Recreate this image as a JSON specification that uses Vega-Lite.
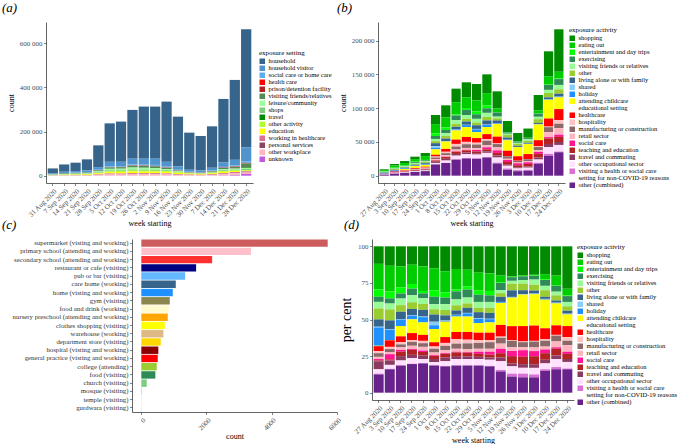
{
  "$schema": "https://vega.github.io/schema/vega-lite/v6.json",
  "background": "white",
  "padding": {"left": 2, "top": 2, "right": 0, "bottom": 0},
  "config": {
    "font": "Liberation Serif",
    "view": {"stroke": null},
    "axis": {"grid": false, "labelFont": "Liberation Serif", "titleFont": "Liberation Serif", "titleFontWeight": "normal", "labelFontSize": 7, "titleFontSize": 8, "labelColor": "#4d4d4d", "titleColor": "#000000", "domainColor": "#222222", "tickColor": "#333333", "tickSize": 2.5, "domainWidth": 0.7, "tickWidth": 0.6, "labelPadding": 1.5, "titlePadding": 3},
    "legend": {"titleFont": "Liberation Serif", "labelFont": "Liberation Serif", "titleFontWeight": "normal", "titleFontSize": 7, "labelFontSize": 6.5, "symbolType": "square", "symbolSize": 30, "symbolStrokeWidth": 0, "rowPadding": 0, "labelOffset": 3, "titlePadding": 2, "labelLimit": 300, "labelColor": "#000000", "titleColor": "#000000", "padding": 0, "labelBaseline": "middle"},
    "title": {"font": "Liberation Serif", "fontStyle": "italic", "fontWeight": "normal", "fontSize": 13, "anchor": "start", "frame": "group", "offset": 7, "color": "#000000"}
  },
  "datasets": {
    "aset": [
      {"cat": "household", "k": 1}, {"cat": "household visitor", "k": 2}, {"cat": "social care or home care", "k": 3}, {"cat": "health care", "k": 4}, {"cat": "prison/detention facility", "k": 5}, {"cat": "visiting friends/relatives", "k": 6}, {"cat": "leisure/community", "k": 7}, {"cat": "shops", "k": 8}, {"cat": "travel", "k": 9}, {"cat": "other activity", "k": 10}, {"cat": "education", "k": 11}, {"cat": "working in healthcare", "k": 12}, {"cat": "personal services", "k": 13}, {"cat": "other workplace", "k": 14}, {"cat": "unknown", "k": 15}
    ],
    "bset": [
      {"cat": "shopping", "k": 1}, {"cat": "eating out", "k": 2}, {"cat": "entertainment and day trips", "k": 3}, {"cat": "exercising", "k": 4}, {"cat": "visiting friends or relatives", "k": 5}, {"cat": "other", "k": 6}, {"cat": "living alone or with family", "k": 7}, {"cat": "shared", "k": 8}, {"cat": "holiday", "k": 9}, {"cat": "attending childcare or educational setting", "k": 10}, {"cat": "healthcare", "k": 11}, {"cat": "hospitality", "k": 12}, {"cat": "manufacturing or construction", "k": 13}, {"cat": "retail sector", "k": 14}, {"cat": "social care", "k": 15}, {"cat": "teaching and education", "k": 16}, {"cat": "travel and commuting", "k": 17}, {"cat": "other occupational sector", "k": 18}, {"cat": "visiting a health or social care setting for non-COVID-19 reasons", "k": 19}, {"cat": "other (combined)", "k": 20}
    ],
    "a": [
      {"week":"31 Aug 2020","cat":"household","n":22500},{"week":"31 Aug 2020","cat":"household visitor","n":3000},{"week":"31 Aug 2020","cat":"social care or home care","n":800},{"week":"31 Aug 2020","cat":"health care","n":200},{"week":"31 Aug 2020","cat":"prison/detention facility","n":100},{"week":"31 Aug 2020","cat":"visiting friends/relatives","n":1500},{"week":"31 Aug 2020","cat":"leisure/community","n":1200},{"week":"31 Aug 2020","cat":"shops","n":500},{"week":"31 Aug 2020","cat":"travel","n":200},{"week":"31 Aug 2020","cat":"other activity","n":600},{"week":"31 Aug 2020","cat":"education","n":300},{"week":"31 Aug 2020","cat":"working in healthcare","n":600},{"week":"31 Aug 2020","cat":"personal services","n":200},{"week":"31 Aug 2020","cat":"other workplace","n":1200},{"week":"31 Aug 2020","cat":"unknown","n":100},
      {"week":"7 Sep 2020","cat":"household","n":33000},{"week":"7 Sep 2020","cat":"household visitor","n":6000},{"week":"7 Sep 2020","cat":"social care or home care","n":1200},{"week":"7 Sep 2020","cat":"health care","n":300},{"week":"7 Sep 2020","cat":"prison/detention facility","n":100},{"week":"7 Sep 2020","cat":"visiting friends/relatives","n":2500},{"week":"7 Sep 2020","cat":"leisure/community","n":2000},{"week":"7 Sep 2020","cat":"shops","n":800},{"week":"7 Sep 2020","cat":"travel","n":300},{"week":"7 Sep 2020","cat":"other activity","n":1000},{"week":"7 Sep 2020","cat":"education","n":1200},{"week":"7 Sep 2020","cat":"working in healthcare","n":1000},{"week":"7 Sep 2020","cat":"personal services","n":300},{"week":"7 Sep 2020","cat":"other workplace","n":1200},{"week":"7 Sep 2020","cat":"unknown","n":100},
      {"week":"14 Sep 2020","cat":"household","n":38000},{"week":"14 Sep 2020","cat":"household visitor","n":7000},{"week":"14 Sep 2020","cat":"social care or home care","n":1300},{"week":"14 Sep 2020","cat":"health care","n":300},{"week":"14 Sep 2020","cat":"prison/detention facility","n":100},{"week":"14 Sep 2020","cat":"visiting friends/relatives","n":2800},{"week":"14 Sep 2020","cat":"leisure/community","n":2300},{"week":"14 Sep 2020","cat":"shops","n":1000},{"week":"14 Sep 2020","cat":"travel","n":300},{"week":"14 Sep 2020","cat":"other activity","n":1200},{"week":"14 Sep 2020","cat":"education","n":1800},{"week":"14 Sep 2020","cat":"working in healthcare","n":1200},{"week":"14 Sep 2020","cat":"personal services","n":300},{"week":"14 Sep 2020","cat":"other workplace","n":1300},{"week":"14 Sep 2020","cat":"unknown","n":100},
      {"week":"21 Sep 2020","cat":"household","n":50000},{"week":"21 Sep 2020","cat":"household visitor","n":8000},{"week":"21 Sep 2020","cat":"social care or home care","n":1500},{"week":"21 Sep 2020","cat":"health care","n":400},{"week":"21 Sep 2020","cat":"prison/detention facility","n":100},{"week":"21 Sep 2020","cat":"visiting friends/relatives","n":3000},{"week":"21 Sep 2020","cat":"leisure/community","n":2500},{"week":"21 Sep 2020","cat":"shops","n":1100},{"week":"21 Sep 2020","cat":"travel","n":400},{"week":"21 Sep 2020","cat":"other activity","n":1300},{"week":"21 Sep 2020","cat":"education","n":2500},{"week":"21 Sep 2020","cat":"working in healthcare","n":1300},{"week":"21 Sep 2020","cat":"personal services","n":400},{"week":"21 Sep 2020","cat":"other workplace","n":1400},{"week":"21 Sep 2020","cat":"unknown","n":100},
      {"week":"28 Sep 2020","cat":"household","n":98500},{"week":"28 Sep 2020","cat":"household visitor","n":12000},{"week":"28 Sep 2020","cat":"social care or home care","n":2000},{"week":"28 Sep 2020","cat":"health care","n":600},{"week":"28 Sep 2020","cat":"prison/detention facility","n":200},{"week":"28 Sep 2020","cat":"visiting friends/relatives","n":4500},{"week":"28 Sep 2020","cat":"leisure/community","n":4500},{"week":"28 Sep 2020","cat":"shops","n":1800},{"week":"28 Sep 2020","cat":"travel","n":600},{"week":"28 Sep 2020","cat":"other activity","n":2500},{"week":"28 Sep 2020","cat":"education","n":4000},{"week":"28 Sep 2020","cat":"working in healthcare","n":2000},{"week":"28 Sep 2020","cat":"personal services","n":600},{"week":"28 Sep 2020","cat":"other workplace","n":3500},{"week":"28 Sep 2020","cat":"unknown","n":200},
      {"week":"5 Oct 2020","cat":"household","n":174000},{"week":"5 Oct 2020","cat":"household visitor","n":21000},{"week":"5 Oct 2020","cat":"social care or home care","n":3000},{"week":"5 Oct 2020","cat":"health care","n":1000},{"week":"5 Oct 2020","cat":"prison/detention facility","n":300},{"week":"5 Oct 2020","cat":"visiting friends/relatives","n":6500},{"week":"5 Oct 2020","cat":"leisure/community","n":7000},{"week":"5 Oct 2020","cat":"shops","n":3000},{"week":"5 Oct 2020","cat":"travel","n":1000},{"week":"5 Oct 2020","cat":"other activity","n":4000},{"week":"5 Oct 2020","cat":"education","n":6000},{"week":"5 Oct 2020","cat":"working in healthcare","n":3500},{"week":"5 Oct 2020","cat":"personal services","n":1000},{"week":"5 Oct 2020","cat":"other workplace","n":5500},{"week":"5 Oct 2020","cat":"unknown","n":200},
      {"week":"12 Oct 2020","cat":"household","n":182000},{"week":"12 Oct 2020","cat":"household visitor","n":20000},{"week":"12 Oct 2020","cat":"social care or home care","n":3000},{"week":"12 Oct 2020","cat":"health care","n":1000},{"week":"12 Oct 2020","cat":"prison/detention facility","n":300},{"week":"12 Oct 2020","cat":"visiting friends/relatives","n":7000},{"week":"12 Oct 2020","cat":"leisure/community","n":7000},{"week":"12 Oct 2020","cat":"shops","n":3000},{"week":"12 Oct 2020","cat":"travel","n":1000},{"week":"12 Oct 2020","cat":"other activity","n":4000},{"week":"12 Oct 2020","cat":"education","n":6500},{"week":"12 Oct 2020","cat":"working in healthcare","n":3500},{"week":"12 Oct 2020","cat":"personal services","n":1000},{"week":"12 Oct 2020","cat":"other workplace","n":5500},{"week":"12 Oct 2020","cat":"unknown","n":200},
      {"week":"19 Oct 2020","cat":"household","n":221000},{"week":"19 Oct 2020","cat":"household visitor","n":26000},{"week":"19 Oct 2020","cat":"social care or home care","n":4000},{"week":"19 Oct 2020","cat":"health care","n":1200},{"week":"19 Oct 2020","cat":"prison/detention facility","n":400},{"week":"19 Oct 2020","cat":"visiting friends/relatives","n":8500},{"week":"19 Oct 2020","cat":"leisure/community","n":8500},{"week":"19 Oct 2020","cat":"shops","n":3500},{"week":"19 Oct 2020","cat":"travel","n":1200},{"week":"19 Oct 2020","cat":"other activity","n":5000},{"week":"19 Oct 2020","cat":"education","n":7000},{"week":"19 Oct 2020","cat":"working in healthcare","n":4500},{"week":"19 Oct 2020","cat":"personal services","n":1200},{"week":"19 Oct 2020","cat":"other workplace","n":5800},{"week":"19 Oct 2020","cat":"unknown","n":200},
      {"week":"26 Oct 2020","cat":"household","n":236000},{"week":"26 Oct 2020","cat":"household visitor","n":27000},{"week":"26 Oct 2020","cat":"social care or home care","n":4000},{"week":"26 Oct 2020","cat":"health care","n":1200},{"week":"26 Oct 2020","cat":"prison/detention facility","n":400},{"week":"26 Oct 2020","cat":"visiting friends/relatives","n":8500},{"week":"26 Oct 2020","cat":"leisure/community","n":8000},{"week":"26 Oct 2020","cat":"shops","n":3500},{"week":"26 Oct 2020","cat":"travel","n":1200},{"week":"26 Oct 2020","cat":"other activity","n":5000},{"week":"26 Oct 2020","cat":"education","n":6500},{"week":"26 Oct 2020","cat":"working in healthcare","n":4500},{"week":"26 Oct 2020","cat":"personal services","n":1200},{"week":"26 Oct 2020","cat":"other workplace","n":5800},{"week":"26 Oct 2020","cat":"unknown","n":200},
      {"week":"2 Nov 2020","cat":"household","n":236000},{"week":"2 Nov 2020","cat":"household visitor","n":28000},{"week":"2 Nov 2020","cat":"social care or home care","n":4500},{"week":"2 Nov 2020","cat":"health care","n":1300},{"week":"2 Nov 2020","cat":"prison/detention facility","n":400},{"week":"2 Nov 2020","cat":"visiting friends/relatives","n":8000},{"week":"2 Nov 2020","cat":"leisure/community","n":7500},{"week":"2 Nov 2020","cat":"shops","n":3500},{"week":"2 Nov 2020","cat":"travel","n":1200},{"week":"2 Nov 2020","cat":"other activity","n":4500},{"week":"2 Nov 2020","cat":"education","n":6500},{"week":"2 Nov 2020","cat":"working in healthcare","n":4500},{"week":"2 Nov 2020","cat":"personal services","n":1200},{"week":"2 Nov 2020","cat":"other workplace","n":5700},{"week":"2 Nov 2020","cat":"unknown","n":200},
      {"week":"9 Nov 2020","cat":"household","n":272500},{"week":"9 Nov 2020","cat":"household visitor","n":22000},{"week":"9 Nov 2020","cat":"social care or home care","n":4000},{"week":"9 Nov 2020","cat":"health care","n":1200},{"week":"9 Nov 2020","cat":"prison/detention facility","n":400},{"week":"9 Nov 2020","cat":"visiting friends/relatives","n":5500},{"week":"9 Nov 2020","cat":"leisure/community","n":5500},{"week":"9 Nov 2020","cat":"shops","n":2500},{"week":"9 Nov 2020","cat":"travel","n":1000},{"week":"9 Nov 2020","cat":"other activity","n":3500},{"week":"9 Nov 2020","cat":"education","n":7000},{"week":"9 Nov 2020","cat":"working in healthcare","n":4000},{"week":"9 Nov 2020","cat":"personal services","n":1000},{"week":"9 Nov 2020","cat":"other workplace","n":5200},{"week":"9 Nov 2020","cat":"unknown","n":200},
      {"week":"16 Nov 2020","cat":"household","n":225500},{"week":"16 Nov 2020","cat":"household visitor","n":15000},{"week":"16 Nov 2020","cat":"social care or home care","n":3000},{"week":"16 Nov 2020","cat":"health care","n":900},{"week":"16 Nov 2020","cat":"prison/detention facility","n":300},{"week":"16 Nov 2020","cat":"visiting friends/relatives","n":3000},{"week":"16 Nov 2020","cat":"leisure/community","n":3000},{"week":"16 Nov 2020","cat":"shops","n":1500},{"week":"16 Nov 2020","cat":"travel","n":600},{"week":"16 Nov 2020","cat":"other activity","n":2000},{"week":"16 Nov 2020","cat":"education","n":5500},{"week":"16 Nov 2020","cat":"working in healthcare","n":3000},{"week":"16 Nov 2020","cat":"personal services","n":600},{"week":"16 Nov 2020","cat":"other workplace","n":3400},{"week":"16 Nov 2020","cat":"unknown","n":200},
      {"week":"23 Nov 2020","cat":"household","n":168000},{"week":"23 Nov 2020","cat":"household visitor","n":9000},{"week":"23 Nov 2020","cat":"social care or home care","n":2500},{"week":"23 Nov 2020","cat":"health care","n":700},{"week":"23 Nov 2020","cat":"prison/detention facility","n":200},{"week":"23 Nov 2020","cat":"visiting friends/relatives","n":1500},{"week":"23 Nov 2020","cat":"leisure/community","n":1500},{"week":"23 Nov 2020","cat":"shops","n":800},{"week":"23 Nov 2020","cat":"travel","n":400},{"week":"23 Nov 2020","cat":"other activity","n":1200},{"week":"23 Nov 2020","cat":"education","n":4000},{"week":"23 Nov 2020","cat":"working in healthcare","n":2000},{"week":"23 Nov 2020","cat":"personal services","n":400},{"week":"23 Nov 2020","cat":"other workplace","n":2600},{"week":"23 Nov 2020","cat":"unknown","n":200},
      {"week":"30 Nov 2020","cat":"household","n":156000},{"week":"30 Nov 2020","cat":"household visitor","n":8000},{"week":"30 Nov 2020","cat":"social care or home care","n":2200},{"week":"30 Nov 2020","cat":"health care","n":600},{"week":"30 Nov 2020","cat":"prison/detention facility","n":200},{"week":"30 Nov 2020","cat":"visiting friends/relatives","n":1300},{"week":"30 Nov 2020","cat":"leisure/community","n":1300},{"week":"30 Nov 2020","cat":"shops","n":800},{"week":"30 Nov 2020","cat":"travel","n":300},{"week":"30 Nov 2020","cat":"other activity","n":1000},{"week":"30 Nov 2020","cat":"education","n":3800},{"week":"30 Nov 2020","cat":"working in healthcare","n":1800},{"week":"30 Nov 2020","cat":"personal services","n":400},{"week":"30 Nov 2020","cat":"other workplace","n":2100},{"week":"30 Nov 2020","cat":"unknown","n":200},
      {"week":"7 Dec 2020","cat":"household","n":187700},{"week":"7 Dec 2020","cat":"household visitor","n":12000},{"week":"7 Dec 2020","cat":"social care or home care","n":2500},{"week":"7 Dec 2020","cat":"health care","n":800},{"week":"7 Dec 2020","cat":"prison/detention facility","n":300},{"week":"7 Dec 2020","cat":"visiting friends/relatives","n":3000},{"week":"7 Dec 2020","cat":"leisure/community","n":2500},{"week":"7 Dec 2020","cat":"shops","n":1500},{"week":"7 Dec 2020","cat":"travel","n":500},{"week":"7 Dec 2020","cat":"other activity","n":2000},{"week":"7 Dec 2020","cat":"education","n":4500},{"week":"7 Dec 2020","cat":"working in healthcare","n":2500},{"week":"7 Dec 2020","cat":"personal services","n":600},{"week":"7 Dec 2020","cat":"other workplace","n":3000},{"week":"7 Dec 2020","cat":"unknown","n":300},
      {"week":"14 Dec 2020","cat":"household","n":287600},{"week":"14 Dec 2020","cat":"household visitor","n":20000},{"week":"14 Dec 2020","cat":"social care or home care","n":3500},{"week":"14 Dec 2020","cat":"health care","n":1200},{"week":"14 Dec 2020","cat":"prison/detention facility","n":400},{"week":"14 Dec 2020","cat":"visiting friends/relatives","n":6000},{"week":"14 Dec 2020","cat":"leisure/community","n":4500},{"week":"14 Dec 2020","cat":"shops","n":2500},{"week":"14 Dec 2020","cat":"travel","n":800},{"week":"14 Dec 2020","cat":"other activity","n":3500},{"week":"14 Dec 2020","cat":"education","n":6000},{"week":"14 Dec 2020","cat":"working in healthcare","n":4000},{"week":"14 Dec 2020","cat":"personal services","n":1000},{"week":"14 Dec 2020","cat":"other workplace","n":5600},{"week":"14 Dec 2020","cat":"unknown","n":1000},
      {"week":"21 Dec 2020","cat":"household","n":361700},{"week":"21 Dec 2020","cat":"household visitor","n":26000},{"week":"21 Dec 2020","cat":"social care or home care","n":4000},{"week":"21 Dec 2020","cat":"health care","n":1500},{"week":"21 Dec 2020","cat":"prison/detention facility","n":500},{"week":"21 Dec 2020","cat":"visiting friends/relatives","n":8000},{"week":"21 Dec 2020","cat":"leisure/community","n":4500},{"week":"21 Dec 2020","cat":"shops","n":2500},{"week":"21 Dec 2020","cat":"travel","n":800},{"week":"21 Dec 2020","cat":"other activity","n":3500},{"week":"21 Dec 2020","cat":"education","n":4000},{"week":"21 Dec 2020","cat":"working in healthcare","n":5000},{"week":"21 Dec 2020","cat":"personal services","n":1000},{"week":"21 Dec 2020","cat":"other workplace","n":8200},{"week":"21 Dec 2020","cat":"unknown","n":2500},
      {"week":"28 Dec 2020","cat":"household","n":535500},{"week":"28 Dec 2020","cat":"household visitor","n":64000},{"week":"28 Dec 2020","cat":"social care or home care","n":6000},{"week":"28 Dec 2020","cat":"health care","n":2000},{"week":"28 Dec 2020","cat":"prison/detention facility","n":800},{"week":"28 Dec 2020","cat":"visiting friends/relatives","n":20000},{"week":"28 Dec 2020","cat":"leisure/community","n":5000},{"week":"28 Dec 2020","cat":"shops","n":3000},{"week":"28 Dec 2020","cat":"travel","n":1000},{"week":"28 Dec 2020","cat":"other activity","n":4000},{"week":"28 Dec 2020","cat":"education","n":2000},{"week":"28 Dec 2020","cat":"working in healthcare","n":5000},{"week":"28 Dec 2020","cat":"personal services","n":1200},{"week":"28 Dec 2020","cat":"other workplace","n":6000},{"week":"28 Dec 2020","cat":"unknown","n":8000}
    ],
    "b": [
      {"week":"27 Aug 2020","cat":"shopping","n":1128},{"week":"27 Aug 2020","cat":"eating out","n":1645},{"week":"27 Aug 2020","cat":"entertainment and day trips","n":470},{"week":"27 Aug 2020","cat":"exercising","n":329},{"week":"27 Aug 2020","cat":"visiting friends or relatives","n":423},{"week":"27 Aug 2020","cat":"other","n":705},{"week":"27 Aug 2020","cat":"living alone or with family","n":470},{"week":"27 Aug 2020","cat":"shared","n":47},{"week":"27 Aug 2020","cat":"holiday","n":1175},{"week":"27 Aug 2020","cat":"attending childcare or educational setting","n":28},{"week":"27 Aug 2020","cat":"healthcare","n":310},{"week":"27 Aug 2020","cat":"hospitality","n":141},{"week":"27 Aug 2020","cat":"manufacturing or construction","n":235},{"week":"27 Aug 2020","cat":"retail sector","n":141},{"week":"27 Aug 2020","cat":"social care","n":94},{"week":"27 Aug 2020","cat":"teaching and education","n":47},{"week":"27 Aug 2020","cat":"travel and commuting","n":517},{"week":"27 Aug 2020","cat":"other occupational sector","n":282},{"week":"27 Aug 2020","cat":"visiting a health or social care setting for non-COVID-19 reasons","n":47},{"week":"27 Aug 2020","cat":"other (combined)","n":1175},
      {"week":"3 Sep 2020","cat":"shopping","n":2301},{"week":"3 Sep 2020","cat":"eating out","n":3028},{"week":"3 Sep 2020","cat":"entertainment and day trips","n":830},{"week":"3 Sep 2020","cat":"exercising","n":606},{"week":"3 Sep 2020","cat":"visiting friends or relatives","n":692},{"week":"3 Sep 2020","cat":"other","n":1298},{"week":"3 Sep 2020","cat":"living alone or with family","n":1038},{"week":"3 Sep 2020","cat":"shared","n":69},{"week":"3 Sep 2020","cat":"holiday","n":1211},{"week":"3 Sep 2020","cat":"attending childcare or educational setting","n":35},{"week":"3 Sep 2020","cat":"healthcare","n":779},{"week":"3 Sep 2020","cat":"hospitality","n":260},{"week":"3 Sep 2020","cat":"manufacturing or construction","n":346},{"week":"3 Sep 2020","cat":"retail sector","n":260},{"week":"3 Sep 2020","cat":"social care","n":606},{"week":"3 Sep 2020","cat":"teaching and education","n":138},{"week":"3 Sep 2020","cat":"travel and commuting","n":519},{"week":"3 Sep 2020","cat":"other occupational sector","n":467},{"week":"3 Sep 2020","cat":"visiting a health or social care setting for non-COVID-19 reasons","n":52},{"week":"3 Sep 2020","cat":"other (combined)","n":2768},
      {"week":"10 Sep 2020","cat":"shopping","n":2973},{"week":"10 Sep 2020","cat":"eating out","n":3147},{"week":"10 Sep 2020","cat":"entertainment and day trips","n":868},{"week":"10 Sep 2020","cat":"exercising","n":760},{"week":"10 Sep 2020","cat":"visiting friends or relatives","n":977},{"week":"10 Sep 2020","cat":"other","n":977},{"week":"10 Sep 2020","cat":"living alone or with family","n":1085},{"week":"10 Sep 2020","cat":"shared","n":65},{"week":"10 Sep 2020","cat":"holiday","n":977},{"week":"10 Sep 2020","cat":"attending childcare or educational setting","n":1519},{"week":"10 Sep 2020","cat":"healthcare","n":868},{"week":"10 Sep 2020","cat":"hospitality","n":326},{"week":"10 Sep 2020","cat":"manufacturing or construction","n":434},{"week":"10 Sep 2020","cat":"retail sector","n":391},{"week":"10 Sep 2020","cat":"social care","n":260},{"week":"10 Sep 2020","cat":"teaching and education","n":651},{"week":"10 Sep 2020","cat":"travel and commuting","n":651},{"week":"10 Sep 2020","cat":"other occupational sector","n":694},{"week":"10 Sep 2020","cat":"visiting a health or social care setting for non-COVID-19 reasons","n":65},{"week":"10 Sep 2020","cat":"other (combined)","n":4015},
      {"week":"17 Sep 2020","cat":"shopping","n":3541},{"week":"17 Sep 2020","cat":"eating out","n":3709},{"week":"17 Sep 2020","cat":"entertainment and day trips","n":899},{"week":"17 Sep 2020","cat":"exercising","n":1265},{"week":"17 Sep 2020","cat":"visiting friends or relatives","n":1349},{"week":"17 Sep 2020","cat":"other","n":1293},{"week":"17 Sep 2020","cat":"living alone or with family","n":1208},{"week":"17 Sep 2020","cat":"shared","n":84},{"week":"17 Sep 2020","cat":"holiday","n":703},{"week":"17 Sep 2020","cat":"attending childcare or educational setting","n":2641},{"week":"17 Sep 2020","cat":"healthcare","n":1349},{"week":"17 Sep 2020","cat":"hospitality","n":337},{"week":"17 Sep 2020","cat":"manufacturing or construction","n":759},{"week":"17 Sep 2020","cat":"retail sector","n":618},{"week":"17 Sep 2020","cat":"social care","n":169},{"week":"17 Sep 2020","cat":"teaching and education","n":955},{"week":"17 Sep 2020","cat":"travel and commuting","n":646},{"week":"17 Sep 2020","cat":"other occupational sector","n":1068},{"week":"17 Sep 2020","cat":"visiting a health or social care setting for non-COVID-19 reasons","n":56},{"week":"17 Sep 2020","cat":"other (combined)","n":5508},
      {"week":"24 Sep 2020","cat":"shopping","n":4603},{"week":"24 Sep 2020","cat":"eating out","n":5645},{"week":"24 Sep 2020","cat":"entertainment and day trips","n":538},{"week":"24 Sep 2020","cat":"exercising","n":1142},{"week":"24 Sep 2020","cat":"visiting friends or relatives","n":1310},{"week":"24 Sep 2020","cat":"other","n":1344},{"week":"24 Sep 2020","cat":"living alone or with family","n":1546},{"week":"24 Sep 2020","cat":"shared","n":134},{"week":"24 Sep 2020","cat":"holiday","n":1210},{"week":"24 Sep 2020","cat":"attending childcare or educational setting","n":2856},{"week":"24 Sep 2020","cat":"healthcare","n":1378},{"week":"24 Sep 2020","cat":"hospitality","n":538},{"week":"24 Sep 2020","cat":"manufacturing or construction","n":840},{"week":"24 Sep 2020","cat":"retail sector","n":840},{"week":"24 Sep 2020","cat":"social care","n":336},{"week":"24 Sep 2020","cat":"teaching and education","n":840},{"week":"24 Sep 2020","cat":"travel and commuting","n":773},{"week":"24 Sep 2020","cat":"other occupational sector","n":941},{"week":"24 Sep 2020","cat":"visiting a health or social care setting for non-COVID-19 reasons","n":67},{"week":"24 Sep 2020","cat":"other (combined)","n":6720},
      {"week":"1 Oct 2020","cat":"shopping","n":13485},{"week":"1 Oct 2020","cat":"eating out","n":13485},{"week":"1 Oct 2020","cat":"entertainment and day trips","n":4046},{"week":"1 Oct 2020","cat":"exercising","n":4495},{"week":"1 Oct 2020","cat":"visiting friends or relatives","n":3147},{"week":"1 Oct 2020","cat":"other","n":3147},{"week":"1 Oct 2020","cat":"living alone or with family","n":4495},{"week":"1 Oct 2020","cat":"shared","n":2248},{"week":"1 Oct 2020","cat":"holiday","n":2248},{"week":"1 Oct 2020","cat":"attending childcare or educational setting","n":8091},{"week":"1 Oct 2020","cat":"healthcare","n":2697},{"week":"1 Oct 2020","cat":"hospitality","n":1349},{"week":"1 Oct 2020","cat":"manufacturing or construction","n":2248},{"week":"1 Oct 2020","cat":"retail sector","n":1798},{"week":"1 Oct 2020","cat":"social care","n":450},{"week":"1 Oct 2020","cat":"teaching and education","n":1798},{"week":"1 Oct 2020","cat":"travel and commuting","n":1798},{"week":"1 Oct 2020","cat":"other occupational sector","n":1978},{"week":"1 Oct 2020","cat":"visiting a health or social care setting for non-COVID-19 reasons","n":270},{"week":"1 Oct 2020","cat":"other (combined)","n":16632},
      {"week":"8 Oct 2020","cat":"shopping","n":17714},{"week":"8 Oct 2020","cat":"eating out","n":15109},{"week":"8 Oct 2020","cat":"entertainment and day trips","n":3647},{"week":"8 Oct 2020","cat":"exercising","n":4689},{"week":"8 Oct 2020","cat":"visiting friends or relatives","n":4168},{"week":"8 Oct 2020","cat":"other","n":3855},{"week":"8 Oct 2020","cat":"living alone or with family","n":3647},{"week":"8 Oct 2020","cat":"shared","n":313},{"week":"8 Oct 2020","cat":"holiday","n":521},{"week":"8 Oct 2020","cat":"attending childcare or educational setting","n":10941},{"week":"8 Oct 2020","cat":"healthcare","n":4168},{"week":"8 Oct 2020","cat":"hospitality","n":2084},{"week":"8 Oct 2020","cat":"manufacturing or construction","n":3126},{"week":"8 Oct 2020","cat":"retail sector","n":2084},{"week":"8 Oct 2020","cat":"social care","n":521},{"week":"8 Oct 2020","cat":"teaching and education","n":2605},{"week":"8 Oct 2020","cat":"travel and commuting","n":2605},{"week":"8 Oct 2020","cat":"other occupational sector","n":3439},{"week":"8 Oct 2020","cat":"visiting a health or social care setting for non-COVID-19 reasons","n":208},{"week":"8 Oct 2020","cat":"other (combined)","n":18756},
      {"week":"15 Oct 2020","cat":"shopping","n":19980},{"week":"15 Oct 2020","cat":"eating out","n":18046},{"week":"15 Oct 2020","cat":"entertainment and day trips","n":1676},{"week":"15 Oct 2020","cat":"exercising","n":7090},{"week":"15 Oct 2020","cat":"visiting friends or relatives","n":5156},{"week":"15 Oct 2020","cat":"other","n":4512},{"week":"15 Oct 2020","cat":"living alone or with family","n":3867},{"week":"15 Oct 2020","cat":"shared","n":258},{"week":"15 Oct 2020","cat":"holiday","n":1289},{"week":"15 Oct 2020","cat":"attending childcare or educational setting","n":13535},{"week":"15 Oct 2020","cat":"healthcare","n":6445},{"week":"15 Oct 2020","cat":"hospitality","n":3867},{"week":"15 Oct 2020","cat":"manufacturing or construction","n":4512},{"week":"15 Oct 2020","cat":"retail sector","n":2578},{"week":"15 Oct 2020","cat":"social care","n":645},{"week":"15 Oct 2020","cat":"teaching and education","n":3223},{"week":"15 Oct 2020","cat":"travel and commuting","n":2578},{"week":"15 Oct 2020","cat":"other occupational sector","n":5414},{"week":"15 Oct 2020","cat":"visiting a health or social care setting for non-COVID-19 reasons","n":387},{"week":"15 Oct 2020","cat":"other (combined)","n":23847},
      {"week":"22 Oct 2020","cat":"shopping","n":22128},{"week":"22 Oct 2020","cat":"eating out","n":15905},{"week":"22 Oct 2020","cat":"entertainment and day trips","n":2766},{"week":"22 Oct 2020","cat":"exercising","n":7607},{"week":"22 Oct 2020","cat":"visiting friends or relatives","n":5532},{"week":"22 Oct 2020","cat":"other","n":4149},{"week":"22 Oct 2020","cat":"living alone or with family","n":4841},{"week":"22 Oct 2020","cat":"shared","n":415},{"week":"22 Oct 2020","cat":"holiday","n":3043},{"week":"22 Oct 2020","cat":"attending childcare or educational setting","n":14522},{"week":"22 Oct 2020","cat":"healthcare","n":7330},{"week":"22 Oct 2020","cat":"hospitality","n":3458},{"week":"22 Oct 2020","cat":"manufacturing or construction","n":5532},{"week":"22 Oct 2020","cat":"retail sector","n":2766},{"week":"22 Oct 2020","cat":"social care","n":692},{"week":"22 Oct 2020","cat":"teaching and education","n":3319},{"week":"22 Oct 2020","cat":"travel and commuting","n":2489},{"week":"22 Oct 2020","cat":"other occupational sector","n":5809},{"week":"22 Oct 2020","cat":"visiting a health or social care setting for non-COVID-19 reasons","n":415},{"week":"22 Oct 2020","cat":"other (combined)","n":25586},
      {"week":"29 Oct 2020","cat":"shopping","n":24444},{"week":"29 Oct 2020","cat":"eating out","n":16296},{"week":"29 Oct 2020","cat":"entertainment and day trips","n":4074},{"week":"29 Oct 2020","cat":"exercising","n":6790},{"week":"29 Oct 2020","cat":"visiting friends or relatives","n":5432},{"week":"29 Oct 2020","cat":"other","n":4074},{"week":"29 Oct 2020","cat":"living alone or with family","n":5432},{"week":"29 Oct 2020","cat":"shared","n":679},{"week":"29 Oct 2020","cat":"holiday","n":4074},{"week":"29 Oct 2020","cat":"attending childcare or educational setting","n":8827},{"week":"29 Oct 2020","cat":"healthcare","n":6790},{"week":"29 Oct 2020","cat":"hospitality","n":2716},{"week":"29 Oct 2020","cat":"manufacturing or construction","n":5432},{"week":"29 Oct 2020","cat":"retail sector","n":2716},{"week":"29 Oct 2020","cat":"social care","n":2037},{"week":"29 Oct 2020","cat":"teaching and education","n":2716},{"week":"29 Oct 2020","cat":"travel and commuting","n":2037},{"week":"29 Oct 2020","cat":"other occupational sector","n":5704},{"week":"29 Oct 2020","cat":"visiting a health or social care setting for non-COVID-19 reasons","n":407},{"week":"29 Oct 2020","cat":"other (combined)","n":25123},
      {"week":"5 Nov 2020","cat":"shopping","n":27769},{"week":"5 Nov 2020","cat":"eating out","n":18012},{"week":"5 Nov 2020","cat":"entertainment and day trips","n":4503},{"week":"5 Nov 2020","cat":"exercising","n":6755},{"week":"5 Nov 2020","cat":"visiting friends or relatives","n":6004},{"week":"5 Nov 2020","cat":"other","n":5254},{"week":"5 Nov 2020","cat":"living alone or with family","n":6004},{"week":"5 Nov 2020","cat":"shared","n":450},{"week":"5 Nov 2020","cat":"holiday","n":3302},{"week":"5 Nov 2020","cat":"attending childcare or educational setting","n":10507},{"week":"5 Nov 2020","cat":"healthcare","n":7505},{"week":"5 Nov 2020","cat":"hospitality","n":2252},{"week":"5 Nov 2020","cat":"manufacturing or construction","n":6755},{"week":"5 Nov 2020","cat":"retail sector","n":3002},{"week":"5 Nov 2020","cat":"social care","n":3002},{"week":"5 Nov 2020","cat":"teaching and education","n":3002},{"week":"5 Nov 2020","cat":"travel and commuting","n":2252},{"week":"5 Nov 2020","cat":"other occupational sector","n":6304},{"week":"5 Nov 2020","cat":"visiting a health or social care setting for non-COVID-19 reasons","n":450},{"week":"5 Nov 2020","cat":"other (combined)","n":27018},
      {"week":"12 Nov 2020","cat":"shopping","n":24980},{"week":"12 Nov 2020","cat":"eating out","n":5621},{"week":"12 Nov 2020","cat":"entertainment and day trips","n":625},{"week":"12 Nov 2020","cat":"exercising","n":6245},{"week":"12 Nov 2020","cat":"visiting friends or relatives","n":2498},{"week":"12 Nov 2020","cat":"other","n":3123},{"week":"12 Nov 2020","cat":"living alone or with family","n":4372},{"week":"12 Nov 2020","cat":"shared","n":250},{"week":"12 Nov 2020","cat":"holiday","n":625},{"week":"12 Nov 2020","cat":"attending childcare or educational setting","n":18735},{"week":"12 Nov 2020","cat":"healthcare","n":9992},{"week":"12 Nov 2020","cat":"hospitality","n":999},{"week":"12 Nov 2020","cat":"manufacturing or construction","n":4996},{"week":"12 Nov 2020","cat":"retail sector","n":4372},{"week":"12 Nov 2020","cat":"social care","n":3747},{"week":"12 Nov 2020","cat":"teaching and education","n":3747},{"week":"12 Nov 2020","cat":"travel and commuting","n":3123},{"week":"12 Nov 2020","cat":"other occupational sector","n":7494},{"week":"12 Nov 2020","cat":"visiting a health or social care setting for non-COVID-19 reasons","n":1249},{"week":"12 Nov 2020","cat":"other (combined)","n":18111},
      {"week":"19 Nov 2020","cat":"shopping","n":16443},{"week":"19 Nov 2020","cat":"eating out","n":405},{"week":"19 Nov 2020","cat":"entertainment and day trips","n":243},{"week":"19 Nov 2020","cat":"exercising","n":2025},{"week":"19 Nov 2020","cat":"visiting friends or relatives","n":1620},{"week":"19 Nov 2020","cat":"other","n":3645},{"week":"19 Nov 2020","cat":"living alone or with family","n":3645},{"week":"19 Nov 2020","cat":"shared","n":162},{"week":"19 Nov 2020","cat":"holiday","n":243},{"week":"19 Nov 2020","cat":"attending childcare or educational setting","n":15795},{"week":"19 Nov 2020","cat":"healthcare","n":7695},{"week":"19 Nov 2020","cat":"hospitality","n":405},{"week":"19 Nov 2020","cat":"manufacturing or construction","n":3645},{"week":"19 Nov 2020","cat":"retail sector","n":2025},{"week":"19 Nov 2020","cat":"social care","n":2835},{"week":"19 Nov 2020","cat":"teaching and education","n":4050},{"week":"19 Nov 2020","cat":"travel and commuting","n":1620},{"week":"19 Nov 2020","cat":"other occupational sector","n":4050},{"week":"19 Nov 2020","cat":"visiting a health or social care setting for non-COVID-19 reasons","n":1620},{"week":"19 Nov 2020","cat":"other (combined)","n":8910},
      {"week":"26 Nov 2020","cat":"shopping","n":12450},{"week":"26 Nov 2020","cat":"eating out","n":316},{"week":"26 Nov 2020","cat":"entertainment and day trips","n":190},{"week":"26 Nov 2020","cat":"exercising","n":1580},{"week":"26 Nov 2020","cat":"visiting friends or relatives","n":1580},{"week":"26 Nov 2020","cat":"other","n":2844},{"week":"26 Nov 2020","cat":"living alone or with family","n":1643},{"week":"26 Nov 2020","cat":"shared","n":126},{"week":"26 Nov 2020","cat":"holiday","n":126},{"week":"26 Nov 2020","cat":"attending childcare or educational setting","n":13588},{"week":"26 Nov 2020","cat":"healthcare","n":6636},{"week":"26 Nov 2020","cat":"hospitality","n":316},{"week":"26 Nov 2020","cat":"manufacturing or construction","n":2212},{"week":"26 Nov 2020","cat":"retail sector","n":1264},{"week":"26 Nov 2020","cat":"social care","n":2844},{"week":"26 Nov 2020","cat":"teaching and education","n":3160},{"week":"26 Nov 2020","cat":"travel and commuting","n":1580},{"week":"26 Nov 2020","cat":"other occupational sector","n":2528},{"week":"26 Nov 2020","cat":"visiting a health or social care setting for non-COVID-19 reasons","n":1580},{"week":"26 Nov 2020","cat":"other (combined)","n":6636},
      {"week":"3 Dec 2020","cat":"shopping","n":13572},{"week":"3 Dec 2020","cat":"eating out","n":348},{"week":"3 Dec 2020","cat":"entertainment and day trips","n":209},{"week":"3 Dec 2020","cat":"exercising","n":1740},{"week":"3 Dec 2020","cat":"visiting friends or relatives","n":2436},{"week":"3 Dec 2020","cat":"other","n":2784},{"week":"3 Dec 2020","cat":"living alone or with family","n":1392},{"week":"3 Dec 2020","cat":"shared","n":139},{"week":"3 Dec 2020","cat":"holiday","n":209},{"week":"3 Dec 2020","cat":"attending childcare or educational setting","n":14964},{"week":"3 Dec 2020","cat":"healthcare","n":7308},{"week":"3 Dec 2020","cat":"hospitality","n":348},{"week":"3 Dec 2020","cat":"manufacturing or construction","n":2784},{"week":"3 Dec 2020","cat":"retail sector","n":1740},{"week":"3 Dec 2020","cat":"social care","n":2436},{"week":"3 Dec 2020","cat":"teaching and education","n":3828},{"week":"3 Dec 2020","cat":"travel and commuting","n":1740},{"week":"3 Dec 2020","cat":"other occupational sector","n":3132},{"week":"3 Dec 2020","cat":"visiting a health or social care setting for non-COVID-19 reasons","n":1392},{"week":"3 Dec 2020","cat":"other (combined)","n":7308},
      {"week":"10 Dec 2020","cat":"shopping","n":22705},{"week":"10 Dec 2020","cat":"eating out","n":4183},{"week":"10 Dec 2020","cat":"entertainment and day trips","n":598},{"week":"10 Dec 2020","cat":"exercising","n":4780},{"week":"10 Dec 2020","cat":"visiting friends or relatives","n":3585},{"week":"10 Dec 2020","cat":"other","n":5378},{"week":"10 Dec 2020","cat":"living alone or with family","n":1673},{"week":"10 Dec 2020","cat":"shared","n":239},{"week":"10 Dec 2020","cat":"holiday","n":478},{"week":"10 Dec 2020","cat":"attending childcare or educational setting","n":23303},{"week":"10 Dec 2020","cat":"healthcare","n":8963},{"week":"10 Dec 2020","cat":"hospitality","n":1195},{"week":"10 Dec 2020","cat":"manufacturing or construction","n":4780},{"week":"10 Dec 2020","cat":"retail sector","n":2390},{"week":"10 Dec 2020","cat":"social care","n":2988},{"week":"10 Dec 2020","cat":"teaching and education","n":5378},{"week":"10 Dec 2020","cat":"travel and commuting","n":2988},{"week":"10 Dec 2020","cat":"other occupational sector","n":4780},{"week":"10 Dec 2020","cat":"visiting a health or social care setting for non-COVID-19 reasons","n":1195},{"week":"10 Dec 2020","cat":"other (combined)","n":17925},
      {"week":"17 Dec 2020","cat":"shopping","n":36840},{"week":"17 Dec 2020","cat":"eating out","n":11973},{"week":"17 Dec 2020","cat":"entertainment and day trips","n":921},{"week":"17 Dec 2020","cat":"exercising","n":7368},{"week":"17 Dec 2020","cat":"visiting friends or relatives","n":4605},{"week":"17 Dec 2020","cat":"other","n":6447},{"week":"17 Dec 2020","cat":"living alone or with family","n":2763},{"week":"17 Dec 2020","cat":"shared","n":368},{"week":"17 Dec 2020","cat":"holiday","n":553},{"week":"17 Dec 2020","cat":"attending childcare or educational setting","n":27630},{"week":"17 Dec 2020","cat":"healthcare","n":11973},{"week":"17 Dec 2020","cat":"hospitality","n":921},{"week":"17 Dec 2020","cat":"manufacturing or construction","n":7368},{"week":"17 Dec 2020","cat":"retail sector","n":7368},{"week":"17 Dec 2020","cat":"social care","n":1842},{"week":"17 Dec 2020","cat":"teaching and education","n":8289},{"week":"17 Dec 2020","cat":"travel and commuting","n":4605},{"week":"17 Dec 2020","cat":"other occupational sector","n":10131},{"week":"17 Dec 2020","cat":"visiting a health or social care setting for non-COVID-19 reasons","n":2763},{"week":"17 Dec 2020","cat":"other (combined)","n":29472},
      {"week":"24 Dec 2020","cat":"shopping","n":62872},{"week":"24 Dec 2020","cat":"eating out","n":9756},{"week":"24 Dec 2020","cat":"entertainment and day trips","n":1084},{"week":"24 Dec 2020","cat":"exercising","n":8672},{"week":"24 Dec 2020","cat":"visiting friends or relatives","n":6504},{"week":"24 Dec 2020","cat":"other","n":6504},{"week":"24 Dec 2020","cat":"living alone or with family","n":4336},{"week":"24 Dec 2020","cat":"shared","n":434},{"week":"24 Dec 2020","cat":"holiday","n":650},{"week":"24 Dec 2020","cat":"attending childcare or educational setting","n":17344},{"week":"24 Dec 2020","cat":"healthcare","n":16260},{"week":"24 Dec 2020","cat":"hospitality","n":5420},{"week":"24 Dec 2020","cat":"manufacturing or construction","n":6504},{"week":"24 Dec 2020","cat":"retail sector","n":9756},{"week":"24 Dec 2020","cat":"social care","n":3252},{"week":"24 Dec 2020","cat":"teaching and education","n":7588},{"week":"24 Dec 2020","cat":"travel and commuting","n":4336},{"week":"24 Dec 2020","cat":"other occupational sector","n":9756},{"week":"24 Dec 2020","cat":"visiting a health or social care setting for non-COVID-19 reasons","n":1084},{"week":"24 Dec 2020","cat":"other (combined)","n":34688}
    ],
    "c": [
      {"place":"supermarket (visting and working)","n":5723},
      {"place":"primary school (attending and working)","n":3366},
      {"place":"secondary school (attending and working)","n":2175},
      {"place":"restaurant or cafe (visiting)","n":1683},
      {"place":"pub or bar (visiting)","n":1345},
      {"place":"care home (working)","n":1058},
      {"place":"home (visting and working)","n":966},
      {"place":"gym (visiting)","n":874},
      {"place":"food and drink (working)","n":843},
      {"place":"nursery preschool (attending and working)","n":812},
      {"place":"clothes shopping (visiting)","n":720},
      {"place":"warehouse (working)","n":677},
      {"place":"department store (visiting)","n":597},
      {"place":"hospital (visting and working)","n":523},
      {"place":"general practice (visting and working)","n":505},
      {"place":"college (attending)","n":474},
      {"place":"food (visiting)","n":431},
      {"place":"church (visiting)","n":166},
      {"place":"mosque (visiting)","n":20},
      {"place":"temple (visiting)","n":8},
      {"place":"gurdwara (visiting)","n":5}
    ]
  },
  "resolve": {"scale": {"color": "independent"}, "legend": {"color": "independent"}},
  "columns": 1,
  "spacing": -9,
  "concat": [
    {
      "spacing": 5,
      "resolve": {"scale": {"color": "independent"}, "legend": {"color": "independent"}},
      "hconcat": [
        {
          "title": {"text": "(a)", "dx": -44},
          "width": 207,
          "height": 161,
          "data": {"name": "a"},
          "transform": [{"lookup": "cat", "from": {"data": {"name": "aset"}, "key": "cat", "fields": ["k"]}}],
          "mark": {"type": "bar"},
          "encoding": {
            "x": {"field": "week", "type": "nominal", "sort": null, "title": "week starting", "scale": {"paddingInner": 0.1, "paddingOuter": 0.15}, "axis": {"labelAngle": -45, "titlePadding": 2}},
            "y": {"field": "n", "type": "quantitative", "stack": "zero", "scale": {"domain": [-33000, 696000], "nice": false, "zero": false}, "axis": {"values": [0, 200000, 400000, 600000], "labelExpr": "replace(format(datum.value, ','), ',', ' ')", "title": "count", "titlePadding": 4}},
            "color": {"field": "cat", "type": "nominal", "scale": {"domain": ["household", "household visitor", "social care or home care", "health care", "prison/detention facility", "visiting friends/relatives", "leisure/community", "shops", "travel", "other activity", "education", "working in healthcare", "personal services", "other workplace", "unknown"], "range": ["#36648B", "#4F94CD", "#5CACEE", "#FF0000", "#B22222", "#548B54", "#9AFF9A", "#7CCD7C", "#008B00", "#ADFF2F", "#FFFF00", "#DB7093", "#8B475D", "#FFB6C1", "#C05AE0"]}, "legend": {"title": "exposure setting", "orient": "none", "legendX": 213, "legendY": 27, "symbolStrokeWidth": 0, "rowPadding": 0, "labelFontSize": 6.5}},
            "order": {"field": "k", "type": "quantitative", "sort": "descending"}
          }
        },
        {
          "title": {"text": "(b)", "dx": -41},
          "width": 187,
          "height": 161,
          "data": {"name": "b"},
          "transform": [{"lookup": "cat", "from": {"data": {"name": "bset"}, "key": "cat", "fields": ["k"]}}],
          "mark": {"type": "bar"},
          "encoding": {
            "x": {"field": "week", "type": "nominal", "sort": null, "title": "week starting", "scale": {"paddingInner": 0.1, "paddingOuter": 0.15}, "axis": {"labelAngle": -45, "titlePadding": 2}},
            "y": {"field": "n", "type": "quantitative", "stack": "zero", "scale": {"domain": [-10840, 227640], "nice": false, "zero": false}, "axis": {"values": [0, 50000, 100000, 150000, 200000], "labelExpr": "replace(format(datum.value, ','), ',', ' ')", "title": "count", "titlePadding": 4}},
            "color": {"field": "cat", "type": "nominal", "scale": {"domain": ["shopping", "eating out", "entertainment and day trips", "exercising", "visiting friends or relatives", "other", "living alone or with family", "shared", "holiday", "attending childcare or educational setting", "healthcare", "hospitality", "manufacturing or construction", "retail sector", "social care", "teaching and education", "travel and commuting", "other occupational sector", "visiting a health or social care setting for non-COVID-19 reasons", "other (combined)"], "range": ["#008B00", "#00CD00", "#00FF00", "#2E8B57", "#98FB98", "#9ACD32", "#36648B", "#87CEFA", "#1E90FF", "#FFFF00", "#FF0000", "#FFC1C1", "#8B6969", "#FFB6C1", "#FF1493", "#B22222", "#8B3A62", "#FFE1FF", "#DA70D6", "#68228B"]}, "legend": {"title": "exposure activity", "orient": "none", "legendX": 191, "legendY": 4, "symbolStrokeWidth": 0, "rowPadding": 0, "labelFontSize": 6.5, "encode": {"labels": {"update": {"lineHeight": {"value": 6.3}}}}, "labelExpr": "datum.label == 'attending childcare or educational setting' ? ['attending childcare', 'educational setting'] : datum.label == 'visiting a health or social care setting for non-COVID-19 reasons' ? ['visiting a health or social care', 'setting for non-COVID-19 reasons'] : datum.label"}},
            "order": {"field": "k", "type": "quantitative", "sort": "descending"}
          }
        }
      ]
    },
    {
      "spacing": -3,
      "resolve": {"scale": {"color": "independent"}, "legend": {"color": "independent"}},
      "hconcat": [
        {
          "title": {"text": "(c)", "dx": -44},
          "width": 291,
          "height": 173,
          "data": {"name": "c"},
          "mark": {"type": "bar"},
          "encoding": {
            "y": {"field": "place", "type": "nominal", "sort": null, "title": null, "scale": {"paddingInner": 0.1, "paddingOuter": 0.05}, "axis": {"labelLimit": 300, "labelColor": "#333333", "labelFontSize": 6.8, "offset": -86}},
            "x": {"field": "n", "type": "quantitative", "scale": {"domain": [-286, 6009], "range": [86, 291], "nice": false, "zero": false}, "axis": {"values": [0, 2000, 4000, 6000], "format": "d", "labelAngle": -45, "title": "count", "titlePadding": 2}},
            "color": {"field": "place", "type": "nominal", "legend": null, "scale": {"domain": ["supermarket (visting and working)", "primary school (attending and working)", "secondary school (attending and working)", "restaurant or cafe (visiting)", "pub or bar (visiting)", "care home (working)", "home (visting and working)", "gym (visiting)", "food and drink (working)", "nursery preschool (attending and working)", "clothes shopping (visiting)", "warehouse (working)", "department store (visiting)", "hospital (visting and working)", "general practice (visting and working)", "college (attending)", "food (visiting)", "church (visiting)", "mosque (visiting)", "temple (visiting)", "gurdwara (visiting)"], "range": ["#CD5C5C", "#FFC0CB", "#FF3030", "#000080", "#63B8FF", "#36648B", "#1E90FF", "#8B864E", "#FFFACD", "#FFA500", "#FFFF00", "#DEB887", "#FFD700", "#8B0000", "#FF0000", "#9ACD32", "#2E8B57", "#7CCD7C", "#90EE90", "#98FB98", "#00FF7F"]}}
          }
        },
        {
          "title": {"text": "(d)", "dx": -28},
          "width": 202,
          "height": 161,
          "data": {"name": "b"},
          "transform": [{"lookup": "cat", "from": {"data": {"name": "bset"}, "key": "cat", "fields": ["k"]}}],
          "mark": {"type": "bar"},
          "encoding": {
            "x": {"field": "week", "type": "nominal", "sort": null, "title": "week starting", "scale": {"paddingInner": 0.1, "paddingOuter": 0.15}, "axis": {"labelAngle": -45, "titlePadding": 2}},
            "y": {"field": "n", "type": "quantitative", "stack": "normalize", "scale": {"domain": [-0.05, 1.05], "nice": false, "zero": false}, "axis": {"values": [0, 0.25, 0.5, 0.75, 1], "labelExpr": "format(datum.value * 100, 'd')", "title": "per cent", "titleFontSize": 14, "titlePadding": 4}},
            "color": {"field": "cat", "type": "nominal", "scale": {"domain": ["shopping", "eating out", "entertainment and day trips", "exercising", "visiting friends or relatives", "other", "living alone or with family", "shared", "holiday", "attending childcare or educational setting", "healthcare", "hospitality", "manufacturing or construction", "retail sector", "social care", "teaching and education", "travel and commuting", "other occupational sector", "visiting a health or social care setting for non-COVID-19 reasons", "other (combined)"], "range": ["#008B00", "#00CD00", "#00FF00", "#2E8B57", "#98FB98", "#9ACD32", "#36648B", "#87CEFA", "#1E90FF", "#FFFF00", "#FF0000", "#FFC1C1", "#8B6969", "#FFB6C1", "#FF1493", "#B22222", "#8B3A62", "#FFE1FF", "#DA70D6", "#68228B"]}, "legend": {"title": "exposure activity", "orient": "none", "legendX": 205, "legendY": 4, "symbolStrokeWidth": 0, "rowPadding": 0, "labelFontSize": 6.5, "encode": {"labels": {"update": {"lineHeight": {"value": 6.3}}}}, "labelExpr": "datum.label == 'attending childcare or educational setting' ? ['attending childcare', 'educational setting'] : datum.label == 'visiting a health or social care setting for non-COVID-19 reasons' ? ['visiting a health or social care', 'setting for non-COVID-19 reasons'] : datum.label"}},
            "order": {"field": "k", "type": "quantitative", "sort": "descending"}
          }
        }
      ]
    }
  ]
}
